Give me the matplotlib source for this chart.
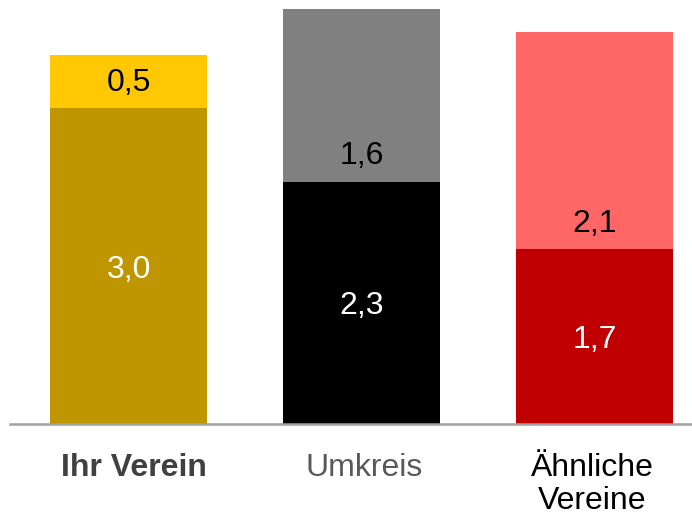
import matplotlib
matplotlib.use("Agg")
import matplotlib.pyplot as plt
import matplotlib.transforms as mtransforms

plt.rcParams['font.family'] = ['Liberation Sans', 'DejaVu Sans']

categories = ['Ihr Verein', 'Umkreis', 'Ähnliche\nVereine']
bottom_vals = [3.0, 2.3, 1.66]
top_vals = [0.5, 1.64, 2.06]
bottom_colors = ['#C09600', '#000000', '#C00000']
top_colors = ['#FFC800', '#808080', '#FF6666']
label_colors = ['#404040', '#595959', '#000000']
label_weights = ['bold', 'normal', 'normal']
label_shift_px = [5, 3, -2]

fig = plt.figure(figsize=(6.92, 5.18), dpi=100)
ax = fig.add_axes([10 / 692, 94 / 518, 682 / 692, 424 / 518])

x = range(len(categories))
ax.bar(x, bottom_vals, width=0.674, color=bottom_colors)
ax.bar(x, top_vals, width=0.674, bottom=bottom_vals, color=top_colors)

# nudge value labels down a bit so the digits (not the comma) sit centred
val_tr = ax.transData + mtransforms.ScaledTranslation(0, -3.5 / 100, fig.dpi_scale_trans)
for i in x:
    ax.text(i, bottom_vals[i] / 2, f'{bottom_vals[i]:.1f}'.replace('.', ','),
            ha='center', va='center', color='white', fontsize=23, transform=val_tr)
    ax.text(i, bottom_vals[i] + 0.275, f'{top_vals[i]:.1f}'.replace('.', ','),
            ha='center', va='center', color='black', fontsize=23, transform=val_tr)

# category labels below the axis line
base = mtransforms.blended_transform_factory(ax.transData, ax.transAxes)
for i in x:
    tr = base + mtransforms.ScaledTranslation(label_shift_px[i] / 100, 0, fig.dpi_scale_trans)
    ax.text(i, -29 / 424, categories[i], transform=tr, ha='center', va='top',
            fontsize=23, color=label_colors[i], fontweight=label_weights[i],
            linespacing=1.12, multialignment='center')

ax.set_xlim(-0.509, 2.418)
ax.set_ylim(0, 4.026)
ax.set_xticks([])
ax.set_yticks([])
for s in ['top', 'right', 'left']:
    ax.spines[s].set_visible(False)
ax.spines['bottom'].set_color('#A0A0A0')
ax.spines['bottom'].set_linewidth(1.8)

fig.savefig('out.png', dpi=100)
